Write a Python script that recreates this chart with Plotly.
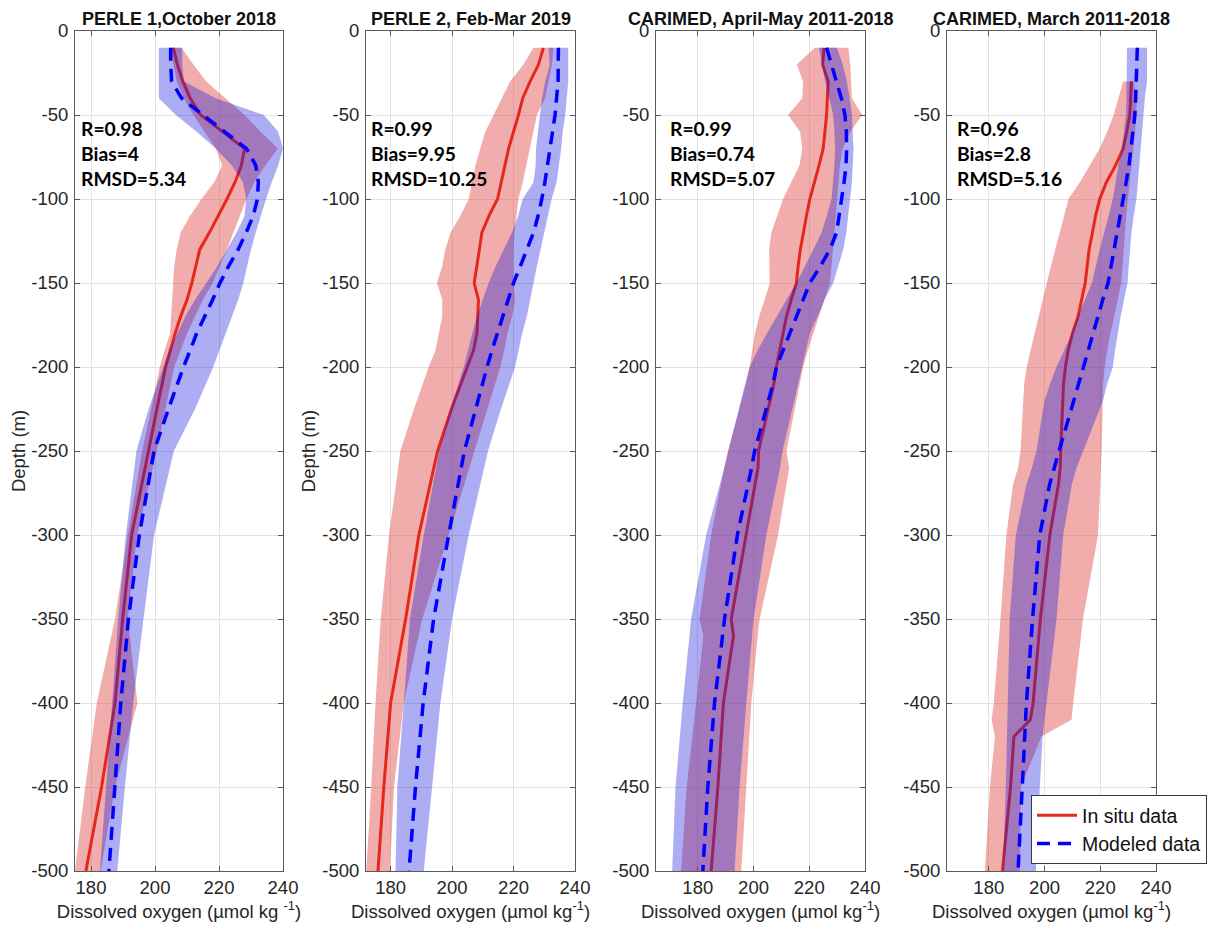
import plotly.graph_objects as go

# ---------------- data ----------------
titles = ["PERLE 1,October 2018", "PERLE 2, Feb-Mar 2019",
          "CARIMED, April-May 2011-2018", "CARIMED, March 2011-2018"]
stat_R = ["0.98", "0.99", "0.99", "0.96"]
stat_bias = ["4", "9.95", "0.74", "2.8"]
stat_rmsd = ["5.34", "10.25", "5.07", "5.16"]
x_ticks = [180, 200, 220, 240]
y_ticks = [0, -50, -100, -150, -200, -250, -300, -350, -400, -450, -500]

# Panel 1 : PERLE 1
p1_depth = [-10, -20, -30, -40, -50, -60, -70, -80, -90, -100, -110, -120, -130, -140,
            -150, -160, -170, -180, -190, -200, -225, -250, -300, -350, -400, -450, -500]
p1_obs_mean = [205.7, 207.0, 208.7, 211.0, 214.3, 221.0, 228.0, 227.0, 225.0, 222.5, 219.8, 217.0, 214.0, 212.8,
               211.5, 210.0, 208.0, 206.3, 204.8, 203.3, 200.6, 198.0, 192.7, 189.9, 187.5, 183.3, 178.4]
p1_obs_lo = [204.7, 205.7, 206.8, 209.0, 212.0, 215.5, 219.0, 221.0, 218.5, 214.5, 211.0, 208.0, 206.8, 206.0,
             205.7, 205.3, 205.0, 204.7, 203.0, 201.5, 198.8, 196.0, 191.5, 187.5, 181.8, 178.2, 175.0]
p1_obs_hi = [208.3, 212.0, 216.0, 222.0, 228.0, 233.0, 238.4, 234.5, 231.0, 228.6, 226.5, 224.5, 222.5, 220.3,
             218.0, 215.0, 212.5, 210.0, 208.0, 206.0, 203.2, 200.5, 194.4, 191.5, 194.5, 187.5, 183.0]
p1_mod_mean = [204.9, 204.9, 205.2, 208.3, 215.0, 222.0, 228.6, 231.5, 232.3, 232.0, 230.7, 228.5, 226.0, 223.0,
               220.3, 218.0, 215.5, 213.0, 211.0, 208.9, 204.2, 199.7, 195.1, 191.7, 189.3, 187.5, 185.6]
p1_mod_lo = [201.2, 201.2, 201.2, 201.2, 206.5, 213.0, 219.0, 224.0, 227.5, 228.5, 228.0, 225.5, 222.5, 219.5,
             216.0, 212.5, 209.5, 207.0, 204.5, 202.6, 198.0, 194.2, 190.9, 188.5, 186.5, 184.7, 182.8]
p1_mod_hi = [208.5, 208.5, 209.0, 219.0, 234.0, 238.5, 240.0, 238.5, 236.5, 234.7, 233.0, 231.5, 230.0, 228.8,
             227.6, 226.0, 224.0, 222.0, 220.2, 218.2, 212.5, 205.9, 199.7, 196.4, 193.2, 190.6, 188.2]

# Panel 2 : PERLE 2
p2_depth = p1_depth
p2_obs_mean = [229.7, 228.1, 225.4, 223.0, 221.6, 220.0, 218.4, 217.2, 216.0, 214.8, 212.0, 209.7, 208.9, 208.0,
               207.2, 208.6, 208.4, 208.1, 207.0, 204.9, 199.8, 195.3, 189.2, 184.9, 180.0, 177.8, 175.9]
p2_obs_lo = [226.5, 223.2, 218.9, 216.2, 213.5, 210.8, 209.2, 207.6, 206.5, 205.4, 202.7, 199.5, 197.8, 196.8,
             195.1, 196.8, 196.8, 195.7, 194.6, 192.4, 187.6, 183.2, 179.5, 176.8, 175.1, 173.7, 172.1]
p2_obs_hi = [233.0, 232.5, 231.4, 230.3, 227.6, 226.5, 225.4, 224.2, 223.0, 221.6, 221.0, 220.3, 220.0, 220.0,
             220.0, 220.5, 219.5, 218.0, 217.0, 215.7, 211.4, 207.3, 198.9, 190.3, 184.3, 181.1, 179.8]
p2_mod_mean = [234.6, 234.6, 234.5, 234.0, 233.5, 232.7, 231.9, 231.0, 230.2, 229.2, 228.0, 226.5, 224.5, 222.2,
               220.0, 218.2, 216.4, 214.6, 213.0, 211.4, 207.6, 204.0, 198.9, 194.0, 190.6, 188.1, 186.0]
p2_mod_lo = [231.4, 231.8, 230.3, 229.3, 228.6, 227.9, 227.3, 227.2, 226.5, 223.0, 221.5, 219.5, 216.8, 214.2,
             211.9, 210.0, 208.1, 206.6, 205.2, 203.8, 199.5, 195.8, 190.8, 186.3, 184.3, 182.2, 181.6]
p2_mod_hi = [237.8, 237.8, 237.8, 237.3, 236.8, 236.0, 235.5, 234.8, 234.0, 232.4, 231.2, 230.0, 228.8, 227.6,
             226.5, 225.5, 224.3, 222.8, 221.6, 220.5, 215.9, 211.7, 205.4, 200.0, 196.2, 193.5, 190.8]

# Panel 3 : CARIMED April-May
p3_depth = [-10, -20, -30, -40, -50, -60, -70, -80, -90, -100, -110, -120, -130, -140, -150,
            -160, -170, -180, -190, -200, -210, -250, -260, -300, -350, -360, -400, -450, -500]
p3_obs_mean = [225.3, 224.8, 226.8, 226.5, 226.2, 225.6, 225.0, 223.5, 221.8, 220.2, 219.0, 217.8, 216.8, 216.0, 215.4,
               213.5, 211.8, 210.6, 209.4, 208.2, 207.3, 201.8, 201.6, 197.4, 192.0, 192.8, 189.2, 187.2, 184.8]
p3_obs_lo = [222.0, 215.5, 217.8, 217.5, 212.4, 216.7, 217.5, 216.5, 213.5, 210.6, 208.5, 206.4, 205.6, 205.7, 205.8,
             204.0, 202.0, 200.5, 199.5, 198.6, 197.3, 190.8, 189.5, 184.8, 180.6, 182.0, 179.4, 176.0, 174.0]
p3_obs_hi = [234.0, 234.7, 235.0, 235.3, 239.0, 234.7, 232.0, 231.0, 230.5, 230.0, 229.5, 229.0, 228.5, 228.0, 227.4,
             225.5, 223.5, 221.5, 219.5, 217.8, 216.5, 211.8, 212.8, 208.8, 202.2, 201.5, 199.2, 197.4, 195.6]
p3_mod_mean = [226.2, 228.0, 229.8, 231.5, 232.8, 233.3, 233.4, 233.2, 232.5, 231.6, 230.8, 229.8, 227.4, 224.0, 220.2,
               217.8, 215.4, 212.8, 210.4, 208.2, 207.0, 200.4, 199.3, 194.2, 189.6, 188.9, 186.0, 183.6, 181.8]
p3_mod_lo = [223.5, 224.5, 225.7, 227.2, 228.6, 229.0, 229.3, 229.0, 228.5, 228.0, 226.3, 224.4, 221.5, 218.5, 215.4,
             211.8, 208.2, 204.8, 201.5, 198.6, 197.0, 190.8, 189.5, 183.0, 177.6, 177.0, 174.6, 172.0, 170.8]
p3_mod_hi = [229.9, 232.0, 233.5, 234.5, 235.3, 235.6, 235.9, 235.6, 235.3, 234.6, 234.0, 233.3, 232.2, 230.5, 228.6,
             225.5, 223.0, 220.2, 218.6, 217.2, 216.0, 210.4, 209.5, 204.6, 200.0, 199.5, 197.4, 195.0, 193.2]

# Panel 4 : CARIMED March
p4_obs_depth = [-30, -40, -50, -60, -70, -80, -90, -100, -110, -120, -130, -140, -150, -160, -170,
                -180, -190, -200, -210, -250, -260, -270, -300, -350, -400, -410, -420, -450, -500]
p4_obs_mean = [231.2, 231.0, 230.6, 229.5, 228.2, 225.5, 222.2, 219.8, 218.3, 217.2, 216.0, 215.3, 214.6, 213.3, 212.0,
               210.0, 208.5, 207.5, 206.8, 205.8, 205.6, 205.0, 201.9, 198.5, 195.9, 194.9, 189.0, 187.8, 184.9]
p4_obs_lo = [228.2, 226.5, 224.8, 222.5, 219.8, 216.2, 212.7, 208.6, 207.0, 205.4, 203.7, 202.3, 200.8, 199.3, 197.9,
             196.5, 195.0, 193.6, 192.7, 191.4, 190.5, 188.7, 186.3, 184.2, 181.8, 181.0, 182.2, 180.4, 178.6]
p4_obs_hi = [232.0, 233.0, 233.0, 232.5, 232.0, 231.3, 230.6, 229.9, 229.3, 228.8, 228.4, 228.0, 227.5, 226.3, 225.0,
             223.6, 222.5, 221.6, 221.0, 220.5, 220.3, 220.0, 219.2, 213.8, 210.3, 209.7, 198.9, 191.5, 191.1]
p4_mod_depth = [-10, -20, -30, -40, -50, -60, -70, -80, -90, -100, -110, -120, -130, -140, -150, -160,
                -170, -180, -190, -200, -210, -220, -250, -260, -270, -300, -350, -400, -410, -420, -450, -500]
p4_mod_mean = [233.3, 233.2, 233.0, 232.7, 232.4, 231.8, 231.2, 230.3, 229.3, 228.2, 227.2, 226.2, 225.2, 224.0, 222.8, 220.9,
               219.2, 217.4, 215.7, 214.0, 212.3, 210.5, 205.2, 203.5, 201.8, 198.3, 195.7, 193.5, 193.2, 192.8, 191.7, 190.5]
p4_mod_lo = [229.6, 229.6, 229.6, 229.4, 229.2, 228.5, 227.8, 226.5, 225.5, 224.5, 223.0, 221.3, 219.8, 218.4, 217.0, 214.5,
             212.0, 209.8, 207.0, 204.3, 202.0, 200.0, 197.1, 195.5, 193.5, 189.7, 187.5, 186.9, 186.8, 186.6, 186.1, 185.1]
p4_mod_hi = [236.8, 236.8, 236.8, 236.0, 235.4, 235.0, 234.6, 234.0, 233.5, 233.0, 232.0, 231.2, 230.6, 230.2, 229.8, 228.5,
             227.3, 226.2, 225.3, 224.5, 222.5, 221.0, 213.9, 211.5, 209.8, 206.7, 204.3, 200.7, 200.0, 199.3, 198.3, 196.9]

panels = [
    dict(obs=(p1_depth, p1_obs_mean, p1_obs_lo, p1_obs_hi), mod=(p1_depth, p1_mod_mean, p1_mod_lo, p1_mod_hi)),
    dict(obs=(p2_depth, p2_obs_mean, p2_obs_lo, p2_obs_hi), mod=(p2_depth, p2_mod_mean, p2_mod_lo, p2_mod_hi)),
    dict(obs=(p3_depth, p3_obs_mean, p3_obs_lo, p3_obs_hi), mod=(p3_depth, p3_mod_mean, p3_mod_lo, p3_mod_hi)),
    dict(obs=(p4_obs_depth, p4_obs_mean, p4_obs_lo, p4_obs_hi), mod=(p4_mod_depth, p4_mod_mean, p4_mod_lo, p4_mod_hi)),
]

# ---------------- style / layout ----------------
OFF = 8  # page body margin
W, H = 1222 - 2 * OFF, 932 - 2 * OFF
x_px = [(75 - OFF, 283 - OFF), (366 - OFF, 575 - OFF), (656 - OFF, 865 - OFF), (947 - OFF, 1156 - OFF)]
x_ranges = [[175, 240], [172, 240], [165, 240], [165, 240]]
Y_TOP, Y_BOT = 31 - OFF, 871 - OFF
y_dom = [1 - Y_BOT / H, 1 - Y_TOP / H]
stat_dx = [5, 4, 13, 9]
stat_line_px = [128 - OFF, 153 - OFF, 178 - OFF]
xtitles = ["Dissolved oxygen (µmol kg <sup>-1</sup>)"] + ["Dissolved oxygen (µmol kg<sup>-1</sup>)"] * 3

RED_LINE = "#e4281e"
RED_FILL = "rgba(220,60,55,0.42)"
BLUE_LINE = "#0000ff"
BLUE_FILL = "rgba(20,20,220,0.35)"
AX_COL = "#5a5a5a"
GRID_COL = "#e3e3e3"
FONT = "Liberation Sans, Arial, sans-serif"
FS = 18.5

fig = go.Figure()
layout = dict(width=W, height=H, margin=dict(l=0, r=0, t=0, b=0, autoexpand=False),
              paper_bgcolor="white", plot_bgcolor="white",
              font=dict(family=FONT, size=FS, color="#262626"),
              showlegend=True,
              legend=dict(x=(1031 - OFF) / W, y=1 - (795 - OFF) / H, xanchor="left", yanchor="top",
                          bgcolor="white", bordercolor="#3a3a3a", borderwidth=1,
                          font=dict(family=FONT, size=19.5, color="#111"),
                          tracegroupgap=0, itemwidth=40),
              annotations=[])

for i, p in enumerate(panels):
    n = "" if i == 0 else str(i + 1)
    xa, ya = "x" + n, "y" + n
    last = i == 3
    d, m, lo, hi = p["obs"]
    fig.add_trace(go.Scatter(x=list(lo) + list(hi)[::-1], y=list(d) + list(d)[::-1],
                             fill="toself", fillcolor=RED_FILL, line=dict(width=0),
                             mode="lines", hoverinfo="skip", showlegend=False, xaxis=xa, yaxis=ya))
    fig.add_trace(go.Scatter(x=m, y=d, mode="lines", line=dict(color=RED_LINE, width=3),
                             name="In situ data", showlegend=last, legendrank=1, xaxis=xa, yaxis=ya))
    d, m, lo, hi = p["mod"]
    fig.add_trace(go.Scatter(x=list(lo) + list(hi)[::-1], y=list(d) + list(d)[::-1],
                             fill="toself", fillcolor=BLUE_FILL, line=dict(width=0),
                             mode="lines", hoverinfo="skip", showlegend=False, xaxis=xa, yaxis=ya))
    fig.add_trace(go.Scatter(x=m, y=d, mode="lines", line=dict(color=BLUE_LINE, width=3.5, dash="13px,8px"),
                             name="Modeled data", showlegend=last, legendrank=2, xaxis=xa, yaxis=ya))

    x0, x1 = x_px[i]
    axcommon = dict(showline=True, linecolor=AX_COL, linewidth=1, mirror="ticks",
                    ticks="inside", ticklen=5, tickcolor=AX_COL, automargin=False,
                    showgrid=True, gridcolor=GRID_COL, gridwidth=1, zeroline=False,
                    tickfont=dict(family=FONT, size=FS, color="#262626"))
    layout["xaxis" + n] = dict(axcommon, domain=[x0 / W, x1 / W], anchor=ya, range=x_ranges[i],
                               tickvals=x_ticks, ticktext=[str(v) for v in x_ticks],
                               title=dict(text=xtitles[i], standoff=5,
                                          font=dict(family=FONT, size=FS, color="#262626")))
    yd = dict(axcommon, domain=y_dom, anchor=xa, range=[-500, 0],
              tickvals=y_ticks, ticktext=[str(v) for v in y_ticks], ticklabelstandoff=2)
    if i < 2:
        yd["title"] = dict(text="Depth (m)", standoff=1, font=dict(family=FONT, size=FS, color="#262626"))
    layout["yaxis" + n] = yd

    layout["annotations"].append(dict(
        text=titles[i], xref="x" + n + " domain", x=0.5, yref="paper", y=1 - (19 - OFF) / H,
        xanchor="center", yanchor="middle", showarrow=False,
        font=dict(family=FONT, size=18, color="#111111", weight="bold")))
    for txt, py in zip(["R=" + stat_R[i], "Bias=" + stat_bias[i], "RMSD=" + stat_rmsd[i]], stat_line_px):
        layout["annotations"].append(dict(
            text=txt, xref="x" + n + " domain", x=stat_dx[i] / (x1 - x0), yref="y" + n + " domain",
            y=1 - (py - Y_TOP) / (Y_BOT - Y_TOP), xanchor="left", yanchor="middle", align="left",
            showarrow=False, borderpad=0,
            font=dict(family="Lato, Open Sans, sans-serif", size=19.3, color="#000000", weight="bold")))

fig.update_layout(**layout)
fig.write_html("out.html")
